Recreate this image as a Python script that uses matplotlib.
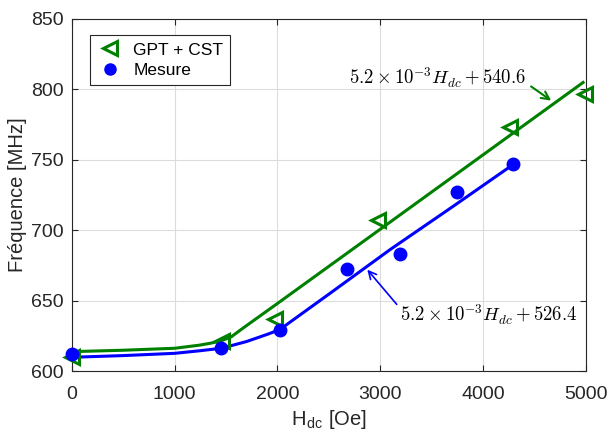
import matplotlib
matplotlib.use("Agg")
import matplotlib.pyplot as plt
from matplotlib.lines import Line2D

plt.rcParams["font.family"] = ["Liberation Sans", "DejaVu Sans"]
plt.rcParams["mathtext.fontset"] = "cm"

# simulated points (GPT + CST) and measured points
sim_h = [0, 1460, 1975, 2977, 4265, 4995]
sim_f = [610, 621, 637, 707.5, 773, 797]
mes_h = [0, 1455, 2023, 2675, 3196, 3743, 4293]
mes_f = [612, 616.5, 629.5, 672.6, 683.3, 727, 747]

# fitted curves
fit_sim_h = [0, 500, 1000, 1241, 1350, 1450, 1550, 1665, 2000, 3000, 4000, 4985]
fit_sim_f = [613.8, 614.8, 616.2, 618.4, 619.8, 621.4, 624.3, 630.5, 648, 700.7, 753.5, 805.5]
fit_mes_h = [0, 500, 1000, 1241, 1453, 1568, 1700, 1795, 1910, 2023, 2500, 3099, 3700, 4300]
fit_mes_f = [609.8, 611, 612.6, 614.4, 616.2, 618.4, 621, 623.4, 626.3, 629.5, 654.6, 686.4, 716.5, 747]

green = "#008000"
blue = "#0000ff"

fig = plt.figure(figsize=(6.09, 4.29), dpi=100)
ax = fig.add_axes([0.118, 0.135, 0.844, 0.821])

ax.plot(fit_sim_h, fit_sim_f, color=green, lw=2.2, solid_capstyle="butt")
ax.plot(fit_mes_h, fit_mes_f, color=blue, lw=2.2, solid_capstyle="butt")
ax.plot(sim_h, sim_f, ls="none", marker="<", ms=10, mfc="none", mec=green,
        mew=2.2, clip_on=False, zorder=4)
ax.plot(mes_h, mes_f, ls="none", marker="o", ms=9, mfc=blue, mec=blue,
        clip_on=False, zorder=4)

ax.set_xlim(0, 5000)
ax.set_ylim(600, 850)
ax.set_xticks(range(0, 5001, 1000))
ax.set_yticks(range(600, 851, 50))
ax.grid(True, color="#dcdcdc", lw=0.8)
ax.set_axisbelow(True)
ax.tick_params(direction="in", top=True, right=True, labelsize=14,
               length=4, color="#262626", labelcolor="#262626")
ax.tick_params(axis="y", pad=6)
ax.tick_params(axis="x", pad=11)
for s in ax.spines.values():
    s.set_color("#262626")
    s.set_linewidth(0.8)

ax.set_ylabel("Fréquence [MHz]", fontsize=14.5, color="#262626", labelpad=3)
ax.set_xlabel(r"H$_{\mathregular{dc}}$ [Oe]", fontsize=14.5, color="#262626", labelpad=3)

ax.annotate(r"$5.2\times10^{-3}H_{dc}+540.6$", xy=(4663, 792), xytext=(4418, 808),
            fontsize=13.5, ha="right", va="center",
            arrowprops=dict(arrowstyle="->", color=green, lw=1.5, mutation_scale=14,
                            relpos=(1, 0.3), shrinkA=2, shrinkB=0))
ax.annotate(r"$5.2\times10^{-3}H_{dc}+526.4$", xy=(2874, 672), xytext=(3196, 640),
            fontsize=13.5, ha="left", va="center",
            arrowprops=dict(arrowstyle="->", color=blue, lw=1.2, mutation_scale=14,
                            relpos=(0, 0.75), shrinkA=1, shrinkB=0))

handles = [
    Line2D([], [], ls="none", marker="<", ms=10, mfc="none", mec=green, mew=2.2),
    Line2D([], [], ls="none", marker="o", ms=8, mfc=blue, mec=blue),
]
leg = ax.legend(handles, ["GPT + CST", "Mesure"], loc="upper left",
                bbox_to_anchor=(0.035, 0.953), borderaxespad=0, fontsize=12.5,
                fancybox=False, framealpha=1, edgecolor="#262626", borderpad=0.4,
                handletextpad=0.6, labelspacing=0.3, handlelength=1.5)
leg.get_frame().set_linewidth(0.8)

fig.savefig("out.png", dpi=100)
